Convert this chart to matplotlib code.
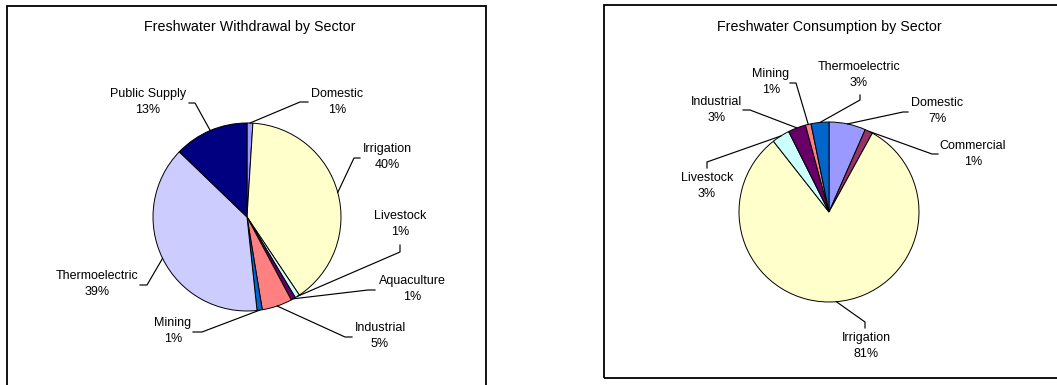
import numpy as np
import matplotlib.pyplot as plt
from matplotlib.patches import Rectangle

plt.rcParams['font.family'] = ['Liberation Sans', 'DejaVu Sans']

# freshwater withdrawal (percent of total)
withdrawal_sectors = ['Domestic', 'Irrigation', 'Livestock', 'Aquaculture', 'Industrial',
                      'Mining', 'Thermoelectric', 'Public Supply']
withdrawal_pct = [1.0, 39.6, 0.8, 0.8, 5.2, 0.9, 38.9, 12.8]
withdrawal_colors = ['#9999FF', '#FFFFCC', '#CCFFFF', '#660066', '#FF8080',
                     '#0066CC', '#CCCCFF', '#000080']

# freshwater consumption (percent of total)
consumption_sectors = ['Domestic', 'Commercial', 'Irrigation', 'Livestock', 'Industrial',
                       'Mining', 'Thermoelectric']
consumption_pct = [6.6, 1.4, 81.4, 3.2, 3.2, 1.0, 3.2]
consumption_colors = ['#9999FF', '#993366', '#FFFFCC', '#CCFFFF', '#660066',
                      '#FF8080', '#0066CC']

W, H = 1057, 385
fig = plt.figure(figsize=(W / 100, H / 100), dpi=100)
ax = fig.add_axes([0, 0, 1, 1])


def Y(y):
    # pixel row from the top -> data y
    return H - y


def draw_pie(values, names, colors, center, radius, title, title_xy, layout):
    cx, cy = center[0], Y(center[1])
    wedges, _ = ax.pie(values, colors=colors, startangle=90, counterclock=False,
                       center=(cx, cy), radius=radius, frame=True,
                       wedgeprops=dict(edgecolor='black', linewidth=0.7))
    ax.text(title_xy[0], Y(title_xy[1]), title, ha='center', va='center', fontsize=10.3)
    total = sum(values)
    for w, name, v, (tx, ty, ex, ey, bx, by) in zip(wedges, names, values, layout):
        mid = np.deg2rad((w.theta1 + w.theta2) / 2)
        px = cx + radius * np.cos(mid)
        py = cy + radius * np.sin(mid)
        ax.plot([px, bx, ex], [py, Y(by), Y(ey)], color='black', lw=0.85)
        ax.text(tx, Y(ty), f'{name}\n{v / total * 100:.0f}%', ha='center', va='center',
                fontsize=9, linespacing=1.45)


# label layout: text x, text y, line end x, y, elbow x, y (pixels from top-left)
withdrawal_layout = [
    (337, 102, 308, 102, 300, 102),
    (387, 157, 360, 158, 354, 158),
    (400, 224, 400, 245, 400, 252),
    (412, 289, 375, 290, 368, 290),
    (380, 336, 352, 337, 345, 337),
    (173, 331, 193, 332, 202, 332),
    (97, 284, 140, 285, 147, 285),
    (148, 102, 189, 103, 195, 103),
]
consumption_layout = [
    (937, 111, 908, 112, 903, 112),
    (973, 154, 938, 154, 932, 154),
    (866, 346, 865, 328, 865, 322),
    (707, 186, 707, 168, 707, 162),
    (717, 110, 743, 110, 750, 110),
    (771, 82, 790, 83, 796, 83),
    (859, 75, 860, 95, 860, 100),
]

draw_pie(withdrawal_pct, withdrawal_sectors, withdrawal_colors, (247, 217), 94,
         'Freshwater Withdrawal by Sector', (250, 27), withdrawal_layout)
draw_pie(consumption_pct, consumption_sectors, consumption_colors, (829, 212), 90,
         'Freshwater Consumption by Sector', (829, 27), consumption_layout)

# chart area borders
ax.add_patch(Rectangle((7, -10), 479, Y(6) + 10, fill=False, edgecolor='black', lw=1.3))
ax.add_patch(Rectangle((604, Y(378)), 480, 373, fill=False, edgecolor='black', lw=1.3))

ax.set_xlim(0, W)
ax.set_ylim(0, H)
ax.axis('off')

fig.savefig('out.png', dpi=100)
